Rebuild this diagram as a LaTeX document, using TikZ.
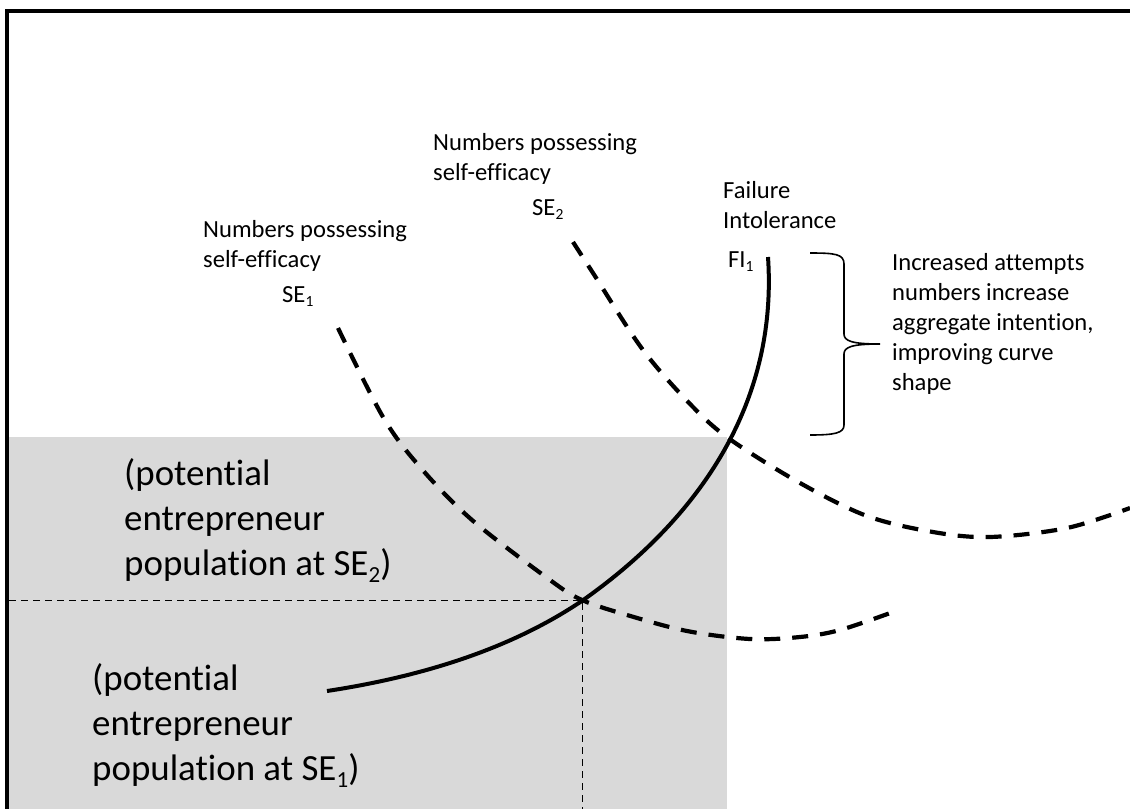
\documentclass[tikz,border=0pt]{standalone}
\usepackage{fontspec}
\setmainfont{Carlito}[Ligatures=NoCommon]
\definecolor{graybg}{HTML}{D9D9D9}
\newcommand{\smsub}[1]{\raisebox{-4.5pt}{\fontsize{15.5}{15.5}\selectfont #1}}
\newcommand{\bgsub}[1]{\raisebox{-7.5pt}{\fontsize{23}{23}\selectfont #1}}
\tikzset{
  smalltext/.style={anchor=base west, inner sep=0pt, align=left, font=\fontsize{24.6}{30}\selectfont},
  bigtext/.style={anchor=base west, inner sep=0pt, align=left, font=\fontsize{36.9}{45}\selectfont},
  guide/.style={line width=1.5pt, dash pattern=on 7pt off 5pt},
  securve/.style={line width=4.2pt, dash pattern=on 16pt off 12pt},
  ficurve/.style={line width=4pt},
  frameline/.style={line width=4pt},
  bracepath/.style={line width=1.6pt}
}
\begin{document}
\begin{tikzpicture}[x=1pt,y=-1pt]
\useasboundingbox (0,0) rectangle (1130,809);
% shaded region
\fill[graybg] (9,437) rectangle (727,809);
% frame
\coordinate (ftr) at (1130,11);
\coordinate (ftl) at (6.5,11);
\coordinate (fbl) at (6.5,809);
\draw[frameline] (ftr) -- (ftl) -- (fbl);
% guides
\coordinate (cross) at (582.5,600.5);
\coordinate (hleft) at (9,600.5);
\coordinate (vbot) at (582.5,809);
\draw[guide] (hleft) -- (cross) -- (vbot);
% SE1 curve
\draw[securve] plot[smooth, tension=0.55] coordinates {(338,328) (383,417) (420,467) (472,520) (550,580) (582,600) (627,615) (687,631) (750,639) (800,637) (840,630) (893,612)};
% SE2 curve
\draw[securve] plot[smooth, tension=0.55] coordinates {(573,242) (593,273) (643,350) (693,407) (731,440) (800,483) (867,516) (933,532) (990,537) (1067,528) (1130,508)};
% FI1 curve
\coordinate (fitop) at (768,257);
\coordinate (fiend) at (327,691);
\draw[ficurve] (fitop) .. controls (779,420) and (680,532) .. (cross) .. controls (508,651) and (416,677.5) .. (fiend);
% brace
\draw[bracepath] (810,253) .. controls (835,253) and (844,254) .. (844,264) -- (844,334) .. controls (844,341) and (852,344) .. (880,344) .. controls (852,344) and (844,347) .. (844,354) -- (844,425) .. controls (844,433) and (835,435) .. (810,435);
% labels (base anchor = baseline of the last line)
\node[smalltext] (nps1) at (203,267) {Numbers possessing\\self-efficacy};
\node[smalltext] (se1) at (282,302) {SE\smsub{1}};
\node[smalltext] (nps2) at (433,180) {Numbers possessing\\self-efficacy};
\node[smalltext] (se2) at (532,215) {SE\smsub{2}};
\node[smalltext] (fail) at (723,228) {Failure\\Intolerance};
\node[smalltext] (fi1) at (728,267) {FI\smsub{1}};
\node[smalltext] (incr) at (892,390) {Increased attempts\\numbers increase\\aggregate intention,\\improving curve\\shape};
\node[bigtext] (pop2) at (124,575) {(potential\\entrepreneur\\population at SE\bgsub{2})};
\node[bigtext] (pop1) at (92,780) {(potential\\entrepreneur\\population at SE\bgsub{1})};
\end{tikzpicture}
\end{document}
